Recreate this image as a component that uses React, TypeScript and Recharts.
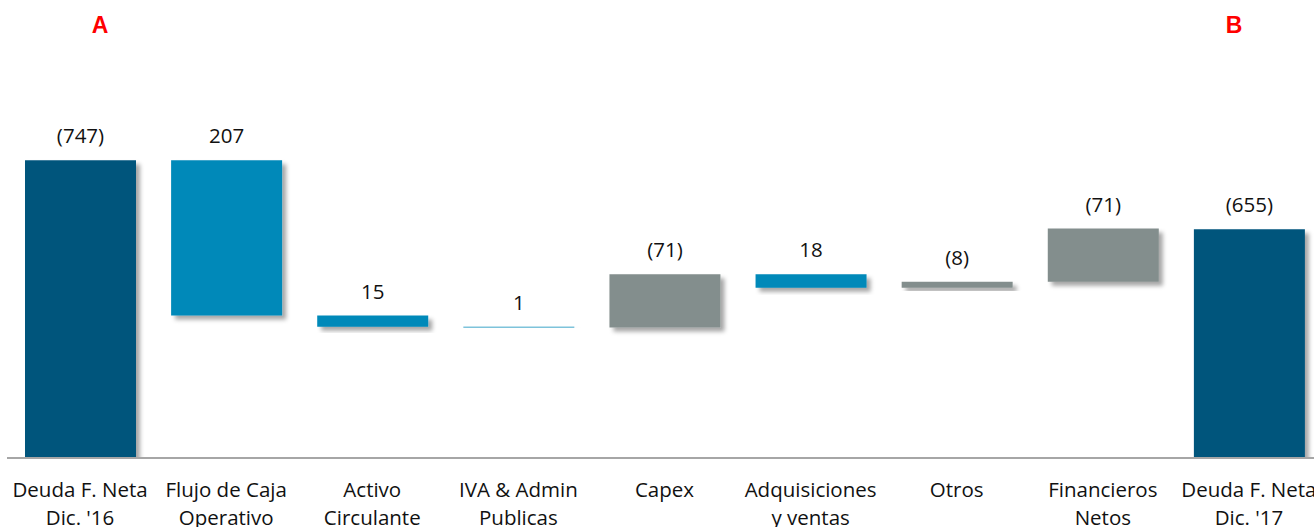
import { Bar, BarChart, Cell, LabelList, XAxis, YAxis } from "recharts";

const categories = [
  "Deuda F. Neta\nDic. '16",
  "Flujo de Caja\nOperativo",
  "Activo\nCirculante",
  "IVA & Admin\nPublicas",
  "Capex",
  "Adquisiciones\ny ventas",
  "Otros",
  "Financieros\nNetos",
  "Deuda F. Neta\nDic. '17",
];
// debt at start / end, and the moves in between (positive reduces debt)
const startDebt = 747;
const endDebt = 655;
const moves = [207, 15, 1, -71, 18, -8, -71];
const valueLabels = ["(747)", "207", "15", "1", "(71)", "18", "(8)", "(71)", "(655)"];

const AXIS_MIN = 350;
const AXIS_MAX = 850;

const DARK = "#02547c";
const BLUE = "#0089b9";
const GRAY = "#838e8d";
const FONT = "'Open Sans', 'Liberation Sans', sans-serif";

type Row = { name: string; range: [number, number]; label: string; color: string };

function buildRows(): Row[] {
  const rows: Row[] = [];
  rows.push({ name: categories[0], range: [AXIS_MIN, startDebt], label: valueLabels[0], color: DARK });
  let level = startDebt;
  moves.forEach((m, i) => {
    const next = level - m;
    rows.push({
      name: categories[i + 1],
      range: [Math.min(level, next), Math.max(level, next)],
      label: valueLabels[i + 1],
      color: m >= 0 ? BLUE : GRAY,
    });
    level = next;
  });
  rows.push({ name: categories[8], range: [AXIS_MIN, endDebt], label: valueLabels[8], color: DARK });
  return rows;
}

const data = buildRows();

function CategoryTick({ x, y, payload }: { x?: number; y?: number; payload?: { value: string } }) {
  const lines = (payload?.value ?? "").split("\n");
  return (
    <text x={x} y={y} textAnchor="middle" fill="#111" fontFamily={FONT} fontSize={20.5}>
      {lines.map((l, i) => (
        <tspan key={i} x={x} dy={i === 0 ? 31 : 28}>
          {l}
        </tspan>
      ))}
    </text>
  );
}

const letterStyle = {
  position: "absolute" as const,
  top: 12,
  width: 40,
  textAlign: "center" as const,
  color: "#ff0000",
  fontFamily: "'Liberation Sans', Arial, sans-serif",
  fontWeight: "bold" as const,
  fontSize: 23,
};

export default function App() {
  return (
    <div
      style={{
        position: "absolute",
        left: 0,
        top: 0,
        width: 1314,
        height: 527,
        overflow: "hidden",
        background: "#fff",
      }}
    >
      <svg width={0} height={0} style={{ position: "absolute" }}>
        <defs>
          <filter id="barShadow" x="-10%" y="-10%" width="130%" height="160%">
            <feDropShadow dx={4} dy={4} stdDeviation={2} floodColor="#000" floodOpacity={0.35} />
          </filter>
        </defs>
      </svg>
      <div style={{ ...letterStyle, left: 80 }}>A</div>
      <div style={{ ...letterStyle, left: 1214 }}>B</div>
      <BarChart
        width={1322}
        height={527}
        data={data}
        margin={{ top: 83, right: 0, left: 7, bottom: 0 }}
      >
        <XAxis
          dataKey="name"
          height={69}
          interval={0}
          tickLine={false}
          axisLine={{ stroke: "#a6a6a6", strokeWidth: 2 }}
          tick={<CategoryTick />}
        />
        <YAxis hide domain={[AXIS_MIN, AXIS_MAX]} allowDataOverflow />
        <Bar
          dataKey="range"
          barSize={111}
          isAnimationActive={false}
          style={{ filter: "url(#barShadow)" }}
        >
          {data.map((d, i) => (
            <Cell key={i} fill={d.color} />
          ))}
          <LabelList
            dataKey="label"
            position="top"
            offset={17}
            fill="#111"
            fontFamily={FONT}
            fontSize={20.5}
          />
        </Bar>
      </BarChart>
    </div>
  );
}
